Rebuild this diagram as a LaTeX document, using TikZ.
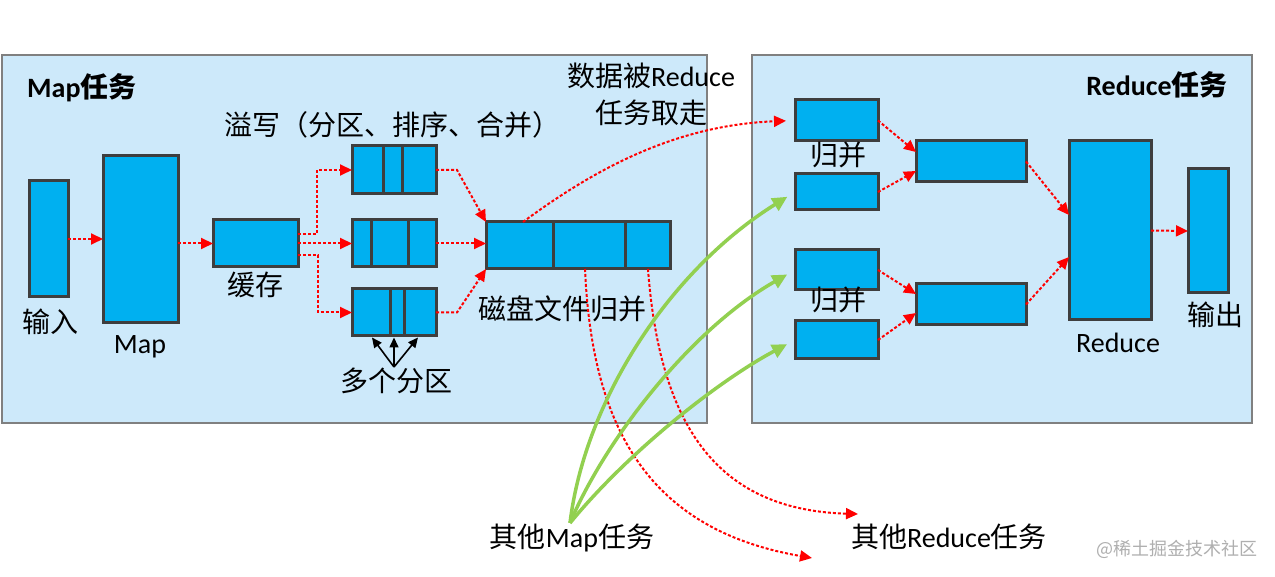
\documentclass[tikz,border=0pt]{standalone}
\usepackage{fontspec}
\setmainfont{Carlito}
\newfontfamily\cjk{Noto Sans CJK SC}
\usetikzlibrary{arrows.meta}
\definecolor{panelfill}{RGB}{205,233,250}
\definecolor{panelline}{RGB}{128,128,128}
\definecolor{boxfill}{RGB}{0,176,240}
\definecolor{boxline}{RGB}{62,62,62}
\definecolor{dotred}{RGB}{255,0,0}
\definecolor{grn}{RGB}{146,208,80}
\definecolor{wmgray}{RGB}{175,175,175}
\begin{document}
\begin{tikzpicture}[x=1pt,y=-1pt,
  panel/.style={draw=panelline, fill=panelfill, line width=1.2pt, inner sep=0pt, outer sep=0pt, anchor=north west},
  blk/.style={draw=boxline, fill=boxfill, line width=3pt, inner sep=0pt, outer sep=0pt},
  divider/.style={draw=boxline, line width=3pt},
  rd/.style={draw=dotred, line width=2pt, dash pattern=on 3pt off 2pt, -{Triangle[length=12pt,width=11pt]}},
  gr/.style={draw=grn, line width=3.5pt, -{Triangle[length=15pt,width=14pt]}},
  bk/.style={draw=black, line width=1.6pt, -{Triangle[length=10pt,width=9pt]}},
  zh/.style={font=\cjk\fontsize{28}{34}\selectfont, inner sep=0pt},
  en/.style={font=\fontsize{28}{34}\selectfont, inner sep=0pt},
  ttl/.style={font=\bfseries\fontsize{28}{34}\selectfont, inner sep=0pt},
]
\useasboundingbox[fill=white] (0,0) rectangle (1275,577);

% panels
\node[panel, minimum width=705pt, minimum height=368pt] (mapp) at (2,55) {};
\node[panel, minimum width=500pt, minimum height=368pt] (redp) at (752,55) {};

% map side boxes
\node[blk, minimum width=39pt, minimum height=116pt] (inp) at (48.5,239) {};
\node[blk, minimum width=75pt, minimum height=167pt] (map) at (140.5,239.5) {};
\node[blk, minimum width=85pt, minimum height=47pt] (cache) at (255.5,243.5) {};
\node[blk, minimum width=84pt, minimum height=48pt] (s1) at (394,170) {};
\node[blk, minimum width=84pt, minimum height=47pt] (s2) at (394,243.5) {};
\node[blk, minimum width=84pt, minimum height=47pt] (s3) at (394,312.5) {};
\node[blk, minimum width=184pt, minimum height=47pt] (disk) at (578,245.5) {};
\foreach \n/\a/\b in {s1/31/50, s2/19/56, s3/38/52, disk/67/139}{
  \draw[divider] ([xshift=\a pt]\n.north west) -- ([xshift=\a pt]\n.south west);
  \draw[divider] ([xshift=\b pt]\n.north west) -- ([xshift=\b pt]\n.south west);
}

% reduce side boxes
\node[blk, minimum width=83pt, minimum height=41pt] (r1) at (836.5,120.5) {};
\node[blk, minimum width=83pt, minimum height=36pt] (r2) at (836.5,192) {};
\node[blk, minimum width=83pt, minimum height=40pt] (r3) at (836.5,270) {};
\node[blk, minimum width=83pt, minimum height=38pt] (r4) at (836.5,340) {};
\node[blk, minimum width=110pt, minimum height=41pt] (m1) at (971,161.5) {};
\node[blk, minimum width=110pt, minimum height=41pt] (m2) at (971,304.5) {};
\node[blk, minimum width=82pt, minimum height=179pt] (red) at (1110,230.5) {};
\node[blk, minimum width=40pt, minimum height=124pt] (out) at (1208,231) {};

% labels
\node[ttl, anchor=west] (tmap) at (27,88) {Map{\cjk 任务}};
\node[ttl] (tred) at (1157,85) {Reduce{\cjk 任务}};
\node[zh] (lspill) at (392,125) {溢写（分区、排序、合并）};
\node[zh] (linp) at (51,322) {输入};
\node[en] (lmap) at (140,347) {Map};
\node[zh] (lcache) at (255,285) {缓存};
\node[zh] (lparts) at (396,381) {多个分区};
\node[zh] (ldisk) at (562,309) {磁盘文件归并};
\node[en, align=center, font=\fontsize{28}{37}\selectfont] (ltake) at (651,94.5) {{\cjk 数据被}Reduce\\{\cjk 任务取走}};
\node[zh] (lm1) at (838,155) {归并};
\node[zh] (lm2) at (838,300) {归并};
\node[en] (lred) at (1118,343) {Reduce};
\node[zh] (lout) at (1215,315) {输出};
\node[en] (omap) at (572,538) {{\cjk 其他}Map{\cjk 任务}};
\node[en] (ored) at (949,537) {{\cjk 其他}Reduce{\cjk 任务}};
\node[font=\cjk\fontsize{18}{22}\selectfont, text=wmgray, inner sep=0pt] (wm) at (1177,549) {@稀土掘金技术社区};

% coordinates
\coordinate (pp) at (394,367);
\coordinate (gstart) at (570,523);
\coordinate (endA) at (812,558);
\coordinate (endB) at (858,514);

% map side connectors
\draw[rd] (inp.east) -- (map.west |- inp.east);
\draw[rd] (map.east |- cache.west) -- (cache.west);
\draw[rd] ([yshift=9.5pt]cache.east) -- ++(19,0) |- (s1.west);
\draw[rd] (cache.east) -- (s2.west);
\draw[rd] ([yshift=-11.5pt]cache.east) -- ++(20,0) |- (s3.west);
\draw[rd] (s1.east) -- ++(21,0) -- (disk.north west);
\draw[rd] (s2.east) -- (disk.west |- s2.east);
\draw[rd] (s3.east) -- ++(21,0) -- (disk.south west);

% partitions arrows
\draw[bk] (pp) -- ([xshift=-22pt,yshift=-1.5pt]s3.south);
\draw[bk] (pp) -- ([yshift=-1.5pt]s3.south);
\draw[bk] (pp) -- ([xshift=24pt,yshift=-1.5pt]s3.south);

% red curves
\draw[rd, shorten >=9pt] ([xshift=-55pt]disk.north) .. controls (600,165) and (680,125) .. (r1.west);
\draw[rd] ([xshift=7pt]disk.south) .. controls (592,430) and (650,530) .. (endA);
\draw[rd] ([xshift=-22pt]disk.south east) .. controls (660,430) and (720,510) .. (endB);

% green curves
\draw[gr, shorten >=9pt] (gstart) .. controls (585,400) and (670,270) .. (r2.west);
\draw[gr, shorten >=9pt] (gstart) .. controls (605,440) and (690,330) .. (r3.west);
\draw[gr, shorten >=9pt] (gstart) .. controls (630,450) and (720,380) .. (r4.west);

% reduce side connectors
\draw[rd] (r1.east) -- ([yshift=9.5pt]m1.west);
\draw[rd] (r2.east) -- ([yshift=-9.5pt]m1.west);
\draw[rd] (r3.east) -- ([yshift=10.5pt]m2.west);
\draw[rd] (r4.east) -- ([yshift=-8.5pt]m2.west);
\draw[rd] (m1.east) -- ([yshift=15.5pt]red.west);
\draw[rd] (m2.east) -- ([yshift=-26.5pt]red.west);
\draw[rd] (red.east) -- (out.west);
\end{tikzpicture}
\end{document}
